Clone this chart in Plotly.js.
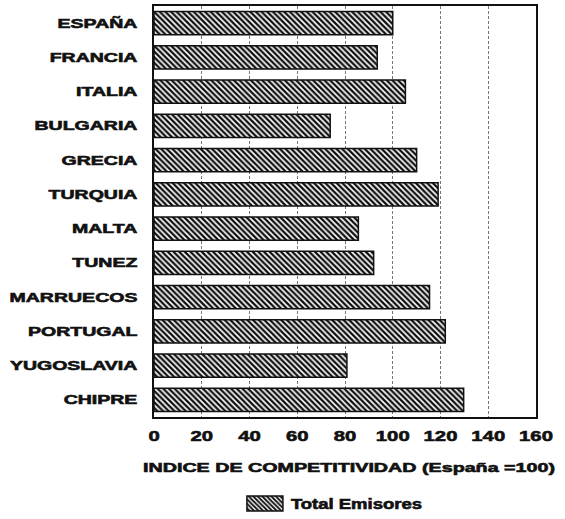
<!DOCTYPE html>
<html><head><meta charset="utf-8">
<script src="https://cdn.plot.ly/plotly-3.0.1.min.js"></script>
<style>body{margin:0;background:#fff}#c{width:565px;height:519px}</style>
</head><body><div id="c"></div>
<script>
const paises = ["ESPAÑA","FRANCIA","ITALIA","BULGARIA","GRECIA","TURQUIA","MALTA","TUNEZ","MARRUECOS","PORTUGAL","YUGOSLAVIA","CHIPRE"];
const indice = [100, 93.5, 105.3, 73.8, 110, 119, 85.6, 92, 115.4, 122, 80.8, 129.7];
const ticksX = [0,20,40,60,80,100,120,140,160];
const serie = "Total Emisores";
const tituloX = "INDICE DE COMPETITIVIDAD (España =100)";

const F = "Liberation Sans, Arial, sans-serif";
Plotly.newPlot("c", [{
  type: "bar", orientation: "h", x: indice, y: paises, name: serie,
  width: 0.68,
  marker: {color: "#ffffff", line: {color: "#111", width: 1.5},
    pattern: {shape: "\\", fgcolor: "#111", bgcolor: "#fff", size: 4, solidity: 0.58}},
  showlegend: true
}], {
  width: 565, height: 519,
  margin: {l: 154, r: 29, t: 6, b: 102},
  paper_bgcolor: "#fff", plot_bgcolor: "#fff",
  font: {family: F, color: "#111"},
  xaxis: {range: [0, 160], tickvals: ticksX, ticktext: ticksX.map(String), automargin: false,
    showgrid: true, gridcolor: "#777", griddash: "3px,2px", gridwidth: 1,
    zeroline: false, showline: true, mirror: true, linecolor: "#111", linewidth: 2,
    ticks: "outside", ticklen: 4, tickcolor: "rgba(0,0,0,0)",
    tickfont: {size: 15, family: F, weight: "bold"},
    title: {text: "<b>" + tituloX + "</b>", font: {size: 13, family: F}, standoff: 20}},
  yaxis: {autorange: "reversed", automargin: false, showline: true, mirror: true, linecolor: "#111", linewidth: 2,
    ticks: "", ticklabelstandoff: 12, showgrid: false,
    tickfont: {size: 13, family: F, weight: "bold"}},
  legend: {orientation: "h", x: 0.238, xanchor: "left", yref: "container", y: 0.029, yanchor: "middle",
    font: {size: 14, family: F, weight: "bold"}}
}, {displayModeBar: false, staticPlot: true}).then(function (gd) {
  function stretch(sel, k, target) {
    gd.querySelectorAll(sel).forEach(function (t) {
      const w = t.getComputedTextLength();
      if (!w) return;
      t.setAttribute("textLength", target ? target : w * k);
      t.setAttribute("lengthAdjust", "spacingAndGlyphs");
      t.style.stroke = "#111";
      t.style.strokeWidth = "0.6px";
    });
  }
  stretch(".ytick text", 1.5);
  stretch(".xtick text", 1.35);
  stretch(".g-xtitle text", 0, 412);
  stretch(".legendtext", 0, 131);
  gd.querySelectorAll(".g-xtitle text").forEach(function (t) {
    t.setAttribute("x", parseFloat(t.getAttribute("x")) + 4);
  });
  gd.querySelectorAll(".legend [clip-path]").forEach(function (el) {
    el.removeAttribute("clip-path");
  });
  gd.querySelectorAll(".legendpoints path").forEach(function (p) {
    p.setAttribute("d", "M18,7.5H-18V-7.5H18Z");
  });
  gd.querySelectorAll(".legendtext").forEach(function (t) {
    t.setAttribute("x", parseFloat(t.getAttribute("x")) + 6);
  });
});
</script></body></html>
